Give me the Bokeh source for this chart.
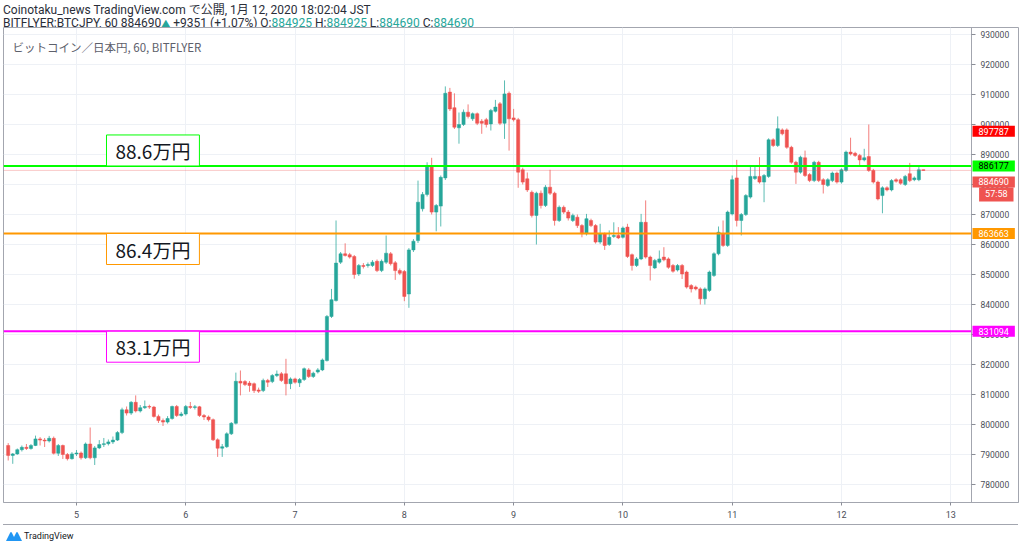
import numpy as np
from bokeh.plotting import figure
from bokeh.layouts import column
from bokeh.models import Range1d, FixedTicker, Label, Div
from bokeh.core.properties import value
from bokeh.embed import file_html
from bokeh.resources import INLINE

# ---------------- data (prices in thousand JPY, hourly bars from Jan 4 09:00 JST) ----------------
start_day = 4.375
opens_k = [793.0,789.7,790.2,791.6,792.4,792.0,793.0,795.2,794.8,794.5,795.4,790.4,793.0,790.0,788.6,790.2,790.5,788.9,793.5,788.9,
792.2,793.3,793.6,794.2,794.8,797.3,804.9,803.8,807.4,804.5,805.6,806.0,805.8,802.7,801.3,800.8,802.0,806.0,803.0,803.5,
806.0,805.7,805.9,803.0,802.5,801.6,794.9,792.1,792.6,796.9,800.4,814.4,814.3,813.8,813.6,811.5,811.3,814.7,814.3,816.3,
816.9,816.9,813.6,815.2,813.9,815.0,818.2,816.0,817.5,818.2,821.3,836.0,841.3,854.1,856.9,856.6,856.0,850.2,853.0,853.0,
853.0,854.4,851.3,854.1,856.9,853.9,851.3,851.0,843.5,858.2,861.3,871.9,876.7,885.8,870.8,872.8,882.2,910.8,905.6,898.9,
900.0,904.1,901.9,903.6,901.1,901.6,900.2,904.4,906.9,900.4,910.4,902.2,901.6,884.9,881.9,877.4,869.7,877.1,873.0,879.1,
877.1,868.0,872.4,870.8,868.0,869.1,866.3,863.6,868.0,866.3,860.8,863.6,860.0,862.7,863.0,862.4,865.8,856.6,853.0,855.2,
867.4,855.8,852.2,854.1,855.8,855.2,853.0,851.5,853.0,850.8,846.3,845.8,845.2,841.9,844.7,849.7,856.9,863.6,859.7,870.2,
882.2,868.0,870.0,875.8,882.0,882.7,880.8,882.7,894.9,893.0,898.2,898.2,892.4,887.4,884.1,888.9,883.3,881.3,887.4,881.6,
879.7,881.3,883.8,880.8,884.7,890.8,890.4,889.7,888.2,889.3,884.7,880.8,876.3,878.9,878.2,881.6,881.6,880.0,883.6,881.6,
881.6,884.925]
highs_k = [793.8,790.5,792.0,793.0,793.5,793.5,796.3,795.8,795.5,796.2,796.0,793.5,793.3,790.5,790.8,791.5,791.0,794.0,799.0,792.8,
794.8,795.5,795.0,796.0,797.8,805.6,806.0,807.8,809.7,806.5,808.0,806.6,806.2,803.3,802.0,802.8,806.3,806.5,804.2,806.5,
807.5,806.5,806.2,803.5,803.0,802.0,795.4,793.5,797.4,800.8,817.3,818.0,814.8,814.5,814.0,812.3,815.3,815.2,816.8,818.0,
817.5,821.9,815.7,815.6,815.5,819.0,818.8,817.6,818.8,822.0,836.5,845.2,868.0,857.5,860.4,857.2,856.5,853.5,853.8,854.0,
854.8,855.0,855.0,863.0,857.5,854.5,852.0,851.5,858.8,861.8,881.3,877.5,887.4,888.9,873.5,883.0,912.7,912.2,910.4,904.0,
905.0,906.7,904.0,904.0,901.8,902.2,905.2,908.2,907.5,914.7,911.0,905.2,902.2,885.6,884.0,878.0,877.6,878.0,879.8,884.9,
877.6,873.0,873.0,871.5,870.3,870.0,866.8,870.2,868.6,866.8,866.9,864.0,864.7,867.4,865.8,866.0,866.9,857.0,855.8,870.2,
874.7,856.3,855.2,858.0,859.1,855.7,853.5,853.5,853.5,851.3,846.8,846.3,845.7,845.7,851.3,857.4,866.0,868.0,871.3,883.0,
888.2,870.5,876.8,886.3,886.3,889.1,883.5,895.4,895.4,902.7,898.7,898.7,892.9,887.9,889.6,891.3,883.8,887.9,887.9,882.1,
882.1,884.3,884.3,885.4,891.3,895.6,890.9,890.2,891.9,900.0,885.2,881.3,879.4,879.4,881.8,882.1,882.1,883.2,887.2,882.7,
885.8,884.925]
lows_k = [788.0,786.9,789.9,791.0,791.5,791.6,792.8,793.0,792.5,794.0,790.0,789.5,788.5,788.0,788.3,789.5,788.3,788.5,788.4,786.5,
791.8,792.5,793.0,793.5,794.5,796.8,803.0,803.2,804.0,804.0,805.2,805.2,802.3,800.5,799.5,800.3,801.6,802.5,802.6,803.0,
805.2,805.0,802.5,801.5,801.0,794.5,789.2,789.2,792.2,796.5,800.0,809.7,812.8,810.9,810.5,810.5,810.8,812.5,813.8,815.8,
814.2,809.7,811.8,813.6,812.5,814.5,815.5,815.5,817.0,817.8,821.0,835.5,841.0,853.5,856.0,855.3,848.6,849.5,852.0,852.3,
852.5,850.8,850.8,853.5,853.0,848.2,849.8,841.1,838.9,857.5,860.5,871.0,876.0,870.0,864.4,866.0,881.5,904.5,898.5,893.6,
899.5,902.0,901.2,899.8,896.9,899.0,898.0,904.0,899.8,895.2,891.3,901.0,878.9,880.0,877.5,869.0,860.0,872.0,872.5,876.5,
866.3,867.5,870.2,868.0,867.5,865.5,862.4,863.0,865.8,860.3,860.2,858.2,859.5,862.2,861.8,862.0,855.5,851.3,852.5,854.8,
855.3,848.0,851.8,853.6,854.4,851.9,850.6,851.0,848.5,845.3,844.0,844.7,840.0,840.0,844.2,849.2,856.4,859.2,859.2,869.7,
866.0,863.0,869.5,875.3,881.5,880.3,874.1,882.2,892.5,892.5,896.4,891.9,886.9,880.2,883.6,882.5,880.8,880.8,880.8,877.0,
879.2,880.8,880.3,880.3,884.2,889.7,889.2,886.0,887.7,884.2,880.3,874.7,870.4,877.7,877.7,880.6,879.9,879.5,880.8,881.1,
881.1,884.69]
closes_k = [789.7,790.2,791.6,792.4,792.0,793.0,795.2,794.8,794.5,795.4,790.4,793.0,790.0,788.6,790.2,790.5,788.9,793.5,788.9,792.2,
793.3,793.6,794.2,794.8,797.3,804.9,803.8,807.4,804.5,805.6,806.0,805.8,802.7,801.3,800.8,802.0,806.0,803.0,803.5,806.0,
805.7,805.9,803.0,802.5,801.6,794.9,792.1,792.6,796.9,800.4,814.4,813.8,813.3,813.0,811.3,811.1,814.7,814.1,816.3,816.8,
814.7,813.6,815.2,814.1,815.0,818.6,816.0,817.1,818.2,821.5,836.0,841.6,853.8,856.9,856.3,855.8,850.0,853.0,852.7,853.3,
854.1,851.3,854.4,857.1,853.6,851.3,850.4,842.7,858.2,861.1,874.1,876.7,886.3,870.8,873.0,882.4,910.4,905.2,899.1,900.0,
904.1,902.7,903.6,900.4,900.4,900.0,904.7,905.8,900.4,910.2,901.9,901.6,884.1,880.8,878.2,869.7,877.1,873.0,879.1,877.1,
868.0,872.4,870.8,868.8,869.7,866.3,863.6,868.6,866.3,860.8,863.6,859.7,862.4,863.0,862.2,865.5,856.0,853.0,855.2,867.4,
855.8,853.0,854.7,855.2,854.9,852.4,851.1,853.0,850.2,845.8,845.2,845.2,841.9,845.2,850.8,856.9,864.1,859.7,870.8,881.6,
868.0,870.0,876.3,882.7,882.7,880.8,883.0,894.9,893.0,898.6,896.9,892.4,887.4,884.1,889.1,883.0,881.3,887.4,881.3,880.0,
881.6,883.8,880.8,884.9,890.8,890.2,889.7,888.2,888.9,884.7,880.8,875.2,878.9,878.2,881.3,881.1,880.4,882.7,881.3,882.2,
884.9,884.69]

day_ticks = [5, 6, 7, 8, 9, 10, 11, 12, 13]
price_ticks = [780000, 790000, 800000, 810000, 820000, 830000, 840000, 850000, 860000, 870000,
               880000, 890000, 900000, 910000, 920000, 930000]
levels = [886177, 863663, 831094]
level_colors = ["#00ff00", "#ff9800", "#ff00ff"]
level_texts = ["88.6万円", "86.4万円", "83.1万円"]
tag_values = [897787, 886177, 884690, 863663, 831094]
tag_colors = ["#ff0000", "#00ff00", "#ef5350", "#ff9800", "#ff00ff"]
tag_text_colors = ["white", "black", "white", "white", "white"]
last_price = 884690
countdown = "57:58"

header1 = "Coinotaku_news TradingView.com で公開, 1月 12, 2020 18:02:04 JST"
symbol = "BITFLYER:BTCJPY, 60 884690"
change = "+9351 (+1.07%)"
ohlc = [("O", "884925"), ("H", "884925"), ("L", "884690"), ("C", "884690")]
legend_text = "ビットコイン／日本円, 60, BITFLYER"

# ---------------- derived ----------------
o = np.array(opens_k) * 1000
h = np.array(highs_k) * 1000
l = np.array(lows_k) * 1000
c = np.array(closes_k) * 1000
t = start_day + np.arange(len(c)) / 24.0
up = c >= o
UP, DOWN = "#26a69a", "#ef5350"
GREY = "#a3a6af"
TEXT = "#2a2e39"

W, H = 1020, 497
LEFT, RIGHT, TOP, BOTTOM = 3, 2, 0, 22
FW = W - LEFT - RIGHT
FH = H - TOP - BOTTOM
x0, x1 = 4.332, 13.620
sep = 13.190            # price-scale separator
px = (x1 - x0) / FW     # one pixel in day units
y0, y1 = 774000, 932333

p = figure(width=W, height=H, x_range=Range1d(x0, x1), y_range=Range1d(y0, y1),
           y_axis_location=None, toolbar_location=None, output_backend="svg",
           min_border_left=LEFT, min_border_right=RIGHT, min_border_top=TOP, min_border_bottom=BOTTOM)
p.margin = (0, 0, 0, 0)
p.background_fill_color = "white"
p.border_fill_color = "white"
p.outline_line_color = GREY

p.xgrid.ticker = FixedTicker(ticks=day_ticks)
p.xgrid.grid_line_color = "#eef1f6"
p.ygrid.visible = False

ax = p.xaxis[0]
ax.ticker = FixedTicker(ticks=day_ticks)
ax.axis_line_color = GREY
ax.major_tick_line_color = "#8a8d96"
ax.major_tick_in = 0
ax.major_tick_out = 3
ax.minor_tick_line_color = None
ax.major_label_text_font = "Roboto"
ax.major_label_text_font_size = "9px"
ax.major_label_text_color = "#4a4d57"
ax.major_label_standoff = 5

# horizontal grid (chart area only)
p.segment(x0=x0, x1=sep, y0=price_ticks, y1=price_ticks, line_color="#eef1f6", line_width=1, level="underlay")

# candles
p.segment(x0=t[up], y0=l[up], x1=t[up], y1=h[up], color=UP, line_width=1, line_alpha=0.75)
p.segment(x0=t[~up], y0=l[~up], x1=t[~up], y1=h[~up], color=DOWN, line_width=1, line_alpha=0.75)
bw = 0.7 / 24
p.vbar(x=t[up], width=bw, top=c[up], bottom=o[up], fill_color=UP, line_color=UP, line_width=0.5)
p.vbar(x=t[~up], width=bw, top=o[~up], bottom=c[~up], fill_color=DOWN, line_color=DOWN, line_width=0.5)

# current price line
p.segment(x0=x0, x1=sep, y0=last_price, y1=last_price, line_color=DOWN, line_alpha=0.3, line_width=1)

# horizontal levels with boxed labels
for lv, col, txt, base in zip(levels, level_colors, level_texts, ["bottom", "top", "top"]):
    p.segment(x0=x0, x1=sep, y0=lv, y1=lv, line_color=col, line_width=2)
    p.add_layout(Label(x=5.2745, y=lv, text=txt, text_font="Noto Sans CJK JP", text_font_size="19px",
                       text_color="#131722", text_align="left", text_baseline=base,
                       background_fill_color="white", border_line_color=col, border_line_width=1,
                       padding=dict(left=9, right=9, top=2, bottom=2)))

# price scale (inside the frame, right of the separator)
p.segment(x0=sep, x1=sep, y0=y0, y1=y1, line_color=GREY, line_width=1)
p.segment(x0=sep, x1=sep + 4 * px, y0=price_ticks, y1=price_ticks, line_color="#8a8d96", line_width=1)
p.text(x=sep, y=price_ticks, text=[str(v) for v in price_ticks], x_offset=9,
       text_font=value("Roboto"), text_font_size="8.5px", text_color="#4a4d57",
       text_align="left", text_baseline="middle")

tag_offsets = [0, 0, -11.5, 0, 0]
for v, col, tc, dy in zip(tag_values, tag_colors, tag_text_colors, tag_offsets):
    p.add_layout(Label(x=sep, y=v, x_offset=1, y_offset=dy, text=str(v), text_font="Roboto",
                       text_font_size="9px", text_color=tc, text_align="left", text_baseline="middle",
                       background_fill_color=col, padding=dict(left=6, right=6, top=2, bottom=2)))
p.add_layout(Label(x=sep, y=last_price, x_offset=42, y_offset=-24, text=countdown, text_font="Roboto",
                   text_font_size="9px", text_color="white", text_align="right", text_baseline="middle",
                   background_fill_color=DOWN, padding=dict(left=6, right=6, top=2, bottom=2)))

p.add_layout(Label(x=9, y=FH - 19, x_units="screen", y_units="screen",
                   text=legend_text, text_font="Noto Sans CJK JP", text_font_size="11.5px",
                   text_color="#5d606b", text_baseline="middle"))

# ---------------- header / footer ----------------
teal = "#26a69a"
parts = "".join(f' {k}:<span style="color:{teal}">{v}</span>' for k, v in ohlc)
header_html = (
    f'<div style="font-family:Roboto,\'Noto Sans CJK JP\',sans-serif;font-size:12px;line-height:12.5px;'
    f'color:{TEXT};padding:4px 0 0 3px;white-space:nowrap">'
    f'{header1}<br>{symbol}<span style="color:{teal};font-size:9px">▲</span> {change}{parts}</div>'
)
header = Div(text=header_html, width=W, height=27, margin=(0, 0, 0, 0))

footer_html = (
    f'<div style="width:1015px;margin-left:3px;height:0;border-top:1px solid {GREY}"></div>'
    '<div style="padding:5px 0 0 6px;font-family:Roboto,sans-serif;font-size:9px;color:#131722;'
    'white-space:nowrap;line-height:12px">'
    '<svg width="16" height="11" viewBox="0 0 16 11" style="vertical-align:-2px;margin-right:2px">'
    '<path d="M0 11 L4 3 Q5 1 6 3 L8 7 L10 3 Q11 1 12 3 L16 11 Z" fill="#2196f3"/></svg>'
    'TradingView</div>'
)
footer = Div(text=footer_html, width=W, height=24, margin=(0, 0, 0, 0))

layout = column(header, p, footer, spacing=0)
open("out.html", "w").write(file_html(layout, INLINE))
